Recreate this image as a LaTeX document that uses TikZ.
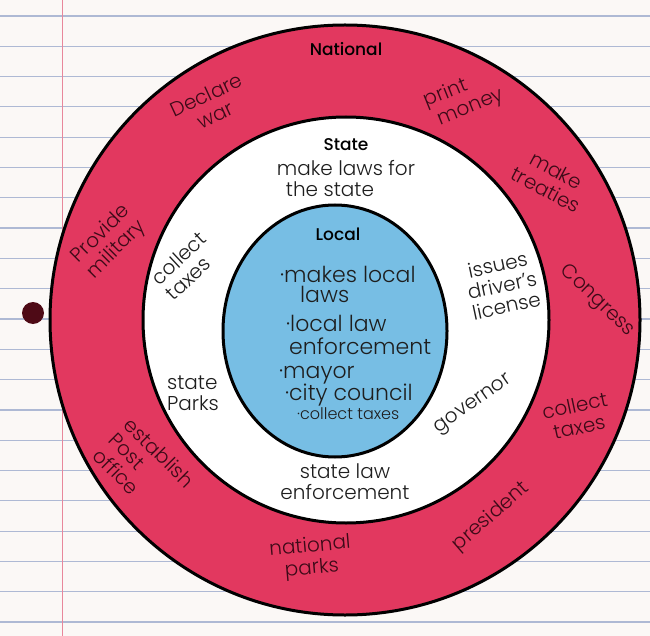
\documentclass[tikz,border=0pt]{standalone}
\usepackage{fontspec}
\setmainfont{Poppins}[UprightFont=* Light, BoldFont=* Medium]

\definecolor{paper}{HTML}{FBF8F6}
\definecolor{paperline}{HTML}{AEB9D4}
\definecolor{marginline}{HTML}{E8879B}
\definecolor{punch}{HTML}{4E0A16}
\definecolor{natred}{HTML}{E2385F}
\definecolor{localblue}{HTML}{77BEE4}
\definecolor{ringink}{HTML}{3D0A18}
\definecolor{ink}{HTML}{1E1E1E}

\tikzset{
  levelring/.style={line width=3pt, draw=black},
  leveltitle/.style={font=\bfseries\fontsize{17}{17}\selectfont, text=black},
  ringlabel/.style={font=\fontsize{20}{22}\selectfont, text=ringink, align=center, inner sep=0pt},
  statelabel/.style={font=\fontsize{20}{21}\selectfont, text=ink, align=center, inner sep=0pt},
  locallabel/.style={font=\fontsize{22}{22}\selectfont, text=ink, anchor=base west, inner sep=0pt},
}

\begin{document}
\begin{tikzpicture}[x=1pt, y=-1pt]
  % paper
  \fill[paper] (0,0) rectangle (650,636);
  \useasboundingbox (0,0) rectangle (650,636);
  % ruled lines
  \foreach \k in {0,...,20}
    \draw[paperline, line width=1.2pt] (0,{16+30.3*\k}) -- (650,{16+30.3*\k});
  % margin line
  \draw[marginline, line width=0.8pt] (62,0) -- (62,636);
  % punch hole
  \fill[punch] (33,313) circle[radius=11pt];

  % rings
  \filldraw[levelring, fill=natred] (345,320) circle[radius=295pt];
  \filldraw[levelring, fill=white] (346,320) circle[radius=203pt];
  \filldraw[levelring, fill=localblue] (335,331) ellipse[x radius=112pt, y radius=126pt];

  % national
  \node[leveltitle] (national) at (346,49) {National};
  \node[ringlabel, rotate=25] (war) at (211,105) {Declare\\war};
  \node[ringlabel, rotate=22] (money) at (450,104) {print\\\hspace*{36pt}money};
  \node[ringlabel, rotate=-28] (treaties) at (551,180) {make\\treaties};
  \node[ringlabel, rotate=45] (military) at (109,242) {Provide\\military};
  \node[ringlabel, rotate=-44] (congress) at (597,301) {Congress};
  \node[ringlabel, rotate=12] (fedtaxes) at (577,416) {collect\\taxes};
  \node[ringlabel, rotate=41] (president) at (491,517) {president};
  \node[ringlabel, rotate=5] (natparks) at (311,558) {national\\parks};
  \node[ringlabel, rotate=-45, align=left] (postoffice) at (144,468) {establish\\Post\\office};

  % state
  \node[leveltitle] (state) at (346,145) {State};
  \node[statelabel] (statelaws) at (346,179) {make laws for\\the state\hspace*{32pt}};
  \node[statelabel, rotate=43, align=left] (statetaxes) at (186,266) {collect\\taxes};
  \node[statelabel, rotate=12] (license) at (502,285) {issues\\driver's\\license};
  \node[statelabel, align=left] (stateparks) at (193,393) {state\\Parks};
  \node[statelabel, rotate=35] (governor) at (474,405) {governor};
  \node[statelabel] (statepolice) at (345,482) {state law\\enforcement};

  % local
  \node[leveltitle] (local) at (338,234) {Local};
  \node[locallabel] (local1) at (280,282) {·makes local};
  \node[locallabel] (local2) at (300,302) {laws};
  \node[locallabel] (local3) at (286,331) {·local law};
  \node[locallabel] (local4) at (289,354) {enforcement};
  \node[locallabel] (local5) at (279,378) {·mayor};
  \node[locallabel] (local6) at (285,400) {·city council};
  \node[locallabel, font=\fontsize{16}{16}\selectfont] (local7) at (297,419) {·collect taxes};
\end{tikzpicture}
\end{document}
